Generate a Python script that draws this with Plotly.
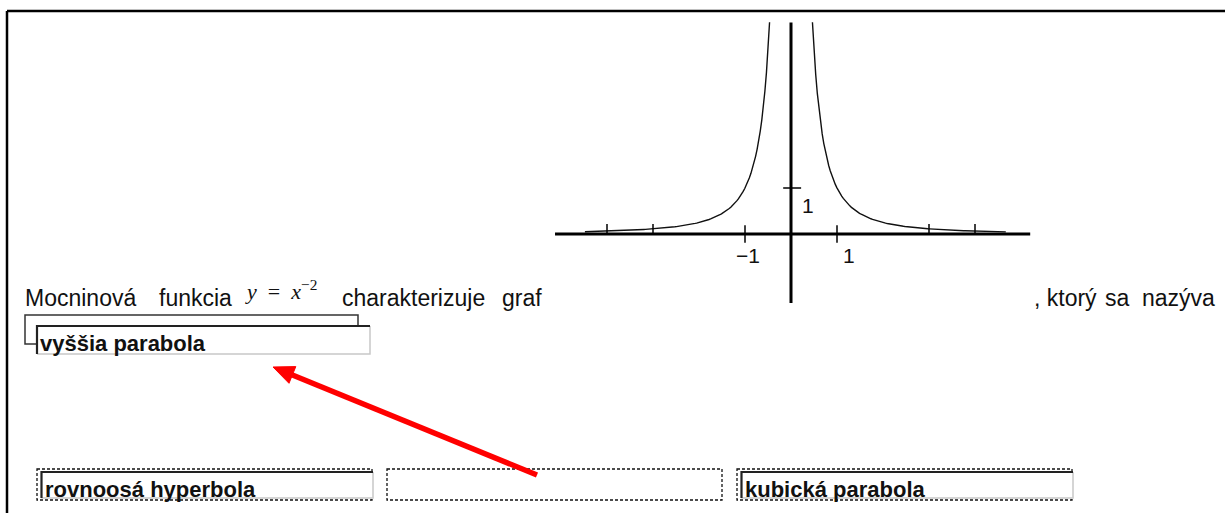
import numpy as np
import plotly.graph_objects as go

# ---- data ----
curve_left_x = list(np.linspace(-4.48, -0.466, 120))
curve_right_x = list(np.linspace(0.466, 4.67, 120))
exponent = -2
x_axis_extent = [-5.13, 5.2]
y_axis_extent = [-1.5, 4.6]
x_tick_vals = [-4, -3, -1, 1, 3, 4]
x_tick_labels = {-1: "\u22121", 1: "1"}
y_tick_vals = [1]
y_tick_labels = {1: "1"}
sentence_parts = ["Mocninová", "funkcia", "charakterizuje", "graf", ", ktorý", "sa", "nazýva"]
answer_text = "vyššia parabola"
choice_texts = ["rovnoosá hyperbola", "", "kubická parabola"]

W, H = 1225, 513
fig = go.Figure()

# function curve (second axes)
for xs in (curve_left_x, curve_right_x):
    xs = np.array(xs)
    fig.add_trace(go.Scatter(x=xs, y=xs ** exponent, mode="lines",
                             line=dict(color="#111", width=1.4),
                             xaxis="x2", yaxis="y2", hoverinfo="skip", showlegend=False))
# axes lines
fig.add_trace(go.Scatter(x=x_axis_extent, y=[0, 0], mode="lines", line=dict(color="black", width=3),
                         xaxis="x2", yaxis="y2", showlegend=False, hoverinfo="skip"))
fig.add_trace(go.Scatter(x=[0, 0], y=y_axis_extent, mode="lines", line=dict(color="black", width=3),
                         xaxis="x2", yaxis="y2", showlegend=False, hoverinfo="skip"))
# ticks
for t in x_tick_vals:
    lo = -0.19 if abs(t) == 1 else 0
    fig.add_trace(go.Scatter(x=[t, t], y=[lo, 0.19 if abs(t) == 1 else 0.22], mode="lines",
                             line=dict(color="black", width=1.5),
                             xaxis="x2", yaxis="y2", showlegend=False, hoverinfo="skip"))
for t in y_tick_vals:
    fig.add_trace(go.Scatter(x=[-0.17, 0.22], y=[t, t], mode="lines",
                             line=dict(color="black", width=1.5),
                             xaxis="x2", yaxis="y2", showlegend=False, hoverinfo="skip"))

annotations = []
for t, lab in x_tick_labels.items():
    annotations.append(dict(x=t + (0.06 if t < 0 else 0.25), y=-0.47, xref="x2", yref="y2", text=lab,
                            showarrow=False, font=dict(family="Liberation Sans, Arial", size=21, color="#111")))
for t, lab in y_tick_labels.items():
    annotations.append(dict(x=0.36, y=t - 0.37, xref="x2", yref="y2", text=lab,
                            showarrow=False, font=dict(family="Liberation Sans, Arial", size=21, color="#111")))

# sentence text (canvas axes, pixel-like coords)
txt_font = dict(family="Liberation Sans, Arial", size=23, color="#111")
positions = [23, 157, 340, 500, 1032, 1103, 1140]
for p, s in zip(positions, sentence_parts):
    annotations.append(dict(x=p, y=298, xref="x", yref="y", text=s, showarrow=False,
                            xanchor="left", yanchor="middle", font=txt_font))
# math y = x^-2
annotations.append(dict(x=243, y=290, xref="x", yref="y",
                        text="<i>y</i>  =  <i>x</i><sup>\u22122</sup>", showarrow=False,
                        xanchor="left", yanchor="middle",
                        font=dict(family="Liberation Serif, Times New Roman", size=22, color="#111")))

shapes = []
# frame
shapes.append(dict(type="line", x0=7, y0=11, x1=1225, y1=11, xref="x", yref="y", line=dict(color="black", width=2.5)))
shapes.append(dict(type="line", x0=7, y0=11, x1=7, y1=513, xref="x", yref="y", line=dict(color="black", width=2.5)))

# answer bracket
shapes.append(dict(type="path", path="M 358 325 L 358 315 L 25 315 L 25 344 L 37 344",
                   xref="x", yref="y", line=dict(color="#333", width=1.5)))


def input_box(x0, y0, x1, y1):
    shapes.append(dict(type="rect", x0=x0, y0=y0, x1=x1, y1=y1, xref="x", yref="y",
                       fillcolor="white", line=dict(width=0)))
    shapes.append(dict(type="path", path=f"M {x0} {y1} L {x1} {y1} L {x1} {y0}",
                       xref="x", yref="y", line=dict(color="#c8c8c8", width=1.5)))
    shapes.append(dict(type="path", path=f"M {x0} {y1} L {x0} {y0} L {x1} {y0}",
                       xref="x", yref="y", line=dict(color="#222", width=2.2)))


input_box(37, 326, 370, 354)
annotations.append(dict(x=38, y=343, xref="x", yref="y", text="<b>" + answer_text + "</b>", showarrow=False,
                        xanchor="left", yanchor="middle",
                        font=dict(family="Liberation Sans, Arial", size=22, color="#111")))

# choice boxes
choice_left = [37, 387, 737]
for cx, ct in zip(choice_left, choice_texts):
    shapes.append(dict(type="rect", x0=cx, y0=469, x1=cx + 335, y1=500, xref="x", yref="y",
                       line=dict(color="#111", width=1.3, dash="3px,2px")))
    if ct:
        input_box(cx + 4.5, 472, cx + 336, 498)
        annotations.append(dict(x=cx + 6, y=489.5, xref="x", yref="y", text="<b>" + ct + "</b>",
                                showarrow=False, xanchor="left", yanchor="middle",
                                font=dict(family="Liberation Sans, Arial", size=22, color="#111")))

# red arrow (line + head)
tip = np.array([273.0, 367.0])
tail = np.array([537.0, 475.0])
u = (tip - tail) / np.linalg.norm(tip - tail)
n = np.array([-u[1], u[0]])
base = tip - 21 * u
c1 = base + 9 * n
c2 = base - 9 * n
shapes.append(dict(type="line", x0=tail[0], y0=tail[1], x1=base[0] + 2 * u[0], y1=base[1] + 2 * u[1],
                   xref="x", yref="y", line=dict(color="#ff0000", width=5.5)))
shapes.append(dict(type="path",
                   path=f"M {tip[0]:.1f} {tip[1]:.1f} L {c1[0]:.1f} {c1[1]:.1f} L {c2[0]:.1f} {c2[1]:.1f} Z",
                   xref="x", yref="y", fillcolor="#ff0000", line=dict(color="#ff0000", width=1)))

fig.update_layout(
    width=W, height=H, margin=dict(l=0, r=0, t=0, b=0),
    paper_bgcolor="white", plot_bgcolor="rgba(0,0,0,0)",
    xaxis=dict(range=[0, W], domain=[0, 1], visible=False, fixedrange=True),
    yaxis=dict(range=[H, 0], domain=[0, 1], visible=False, fixedrange=True),
    xaxis2=dict(range=[-5.5, 5.5], domain=[538 / W, 1044 / W], visible=False, anchor="y2"),
    yaxis2=dict(range=[-1.6, 4.8], domain=[1 - 307.6 / H, 1 - 13.2 / H], visible=False, anchor="x2"),
    shapes=shapes, annotations=annotations, showlegend=False,
)
fig.write_html("out.html", config={"displayModeBar": False},
               post_script="document.body.style.margin='0px';document.body.style.overflow='hidden';")
